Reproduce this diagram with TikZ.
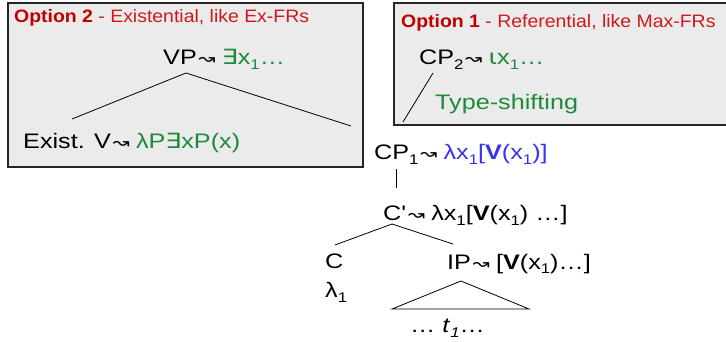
\documentclass[tikz,border=0pt]{standalone}
\usepackage{fontspec}
\setmainfont[FakeStretch=1.2]{Liberation Sans}
\newfontfamily\headfont[FakeStretch=1.08]{Liberation Sans}
\newfontfamily\symfont[FakeStretch=1.2]{DejaVu Sans}
\definecolor{boxgray}{HTML}{EBEBEB}
\definecolor{optred}{HTML}{C00000}
\definecolor{optlight}{HTML}{D0181C}
\definecolor{semgreen}{HTML}{1E8A3A}
\definecolor{semblue}{HTML}{3535F0}
% small wavy arrow used between a label and its meaning
\newcommand{\mapsarr}{\hspace{0.08em}{\symfont\fontsize{17}{17}\selectfont ↝}\hspace{0.3em}}
\newcommand{\exq}{{\symfont ∃}}
\newcommand{\iotaop}{{\symfont ι}}
\newcommand{\straightq}{{\addfontfeatures{Ligatures=TeXOff}'}}
\newcommand{\lo}[1]{\raisebox{-5pt}{\fontsize{14}{14}\selectfont #1}}
\begin{document}
\begin{tikzpicture}[x=1pt,y=-1pt,
  panel/.style={draw=black!85,line width=1.1pt,fill=boxgray},
  lbl/.style={anchor=base west,inner sep=0pt,font=\fontsize{21}{24}\selectfont},
  head/.style={anchor=base west,inner sep=0pt,font=\headfont\fontsize{18}{20}\selectfont},
  branch/.style={line width=0.8pt,black}]
\useasboundingbox (0,0) rectangle (726,342);
\fill[white] (0,0) rectangle (726,342);

% Option 2 panel
\draw[panel] (8,3) rectangle (363,167);
\node[head] (opt2) at (14,23) {\textcolor{optred}{\textbf{Option 2}} \textcolor{optlight}{- Existential, like Ex-FRs}};
\node[lbl] (vp) at (163,65) {VP\mapsarr\textcolor{semgreen}{\exq x\lo{1}…}};
\node[lbl] (ev) at (23,149) {Exist. V\mapsarr\textcolor{semgreen}{λP\exq xP(x)}};
\coordinate (vptop) at (186,73);
\coordinate (vpl) at (72,119);
\coordinate (vpr) at (351,126);
\draw[branch] (vpl) -- (vptop) -- (vpr);

% Option 1 panel
\draw[panel] (394,3) rectangle (727,125);
\node[head] (opt1) at (401,28) {\textcolor{optred}{\textbf{Option 1}} \textcolor{optlight}{- Referential, like Max-FRs}};
\node[lbl] (cp2) at (419,65) {CP\lo{2}\mapsarr\textcolor{semgreen}{\iotaop x\lo{1}…}};
\node[lbl,text=semgreen] (ts) at (435,110) {Type-shifting};
\coordinate (tsa) at (433,73);
\coordinate (tsb) at (403,122);
\draw[branch] (tsa) -- (tsb);

% main tree
\node[lbl] (cp1) at (374,160) {CP\lo{1}\mapsarr\textcolor{semblue}{λx\lo{1}[\textbf{V}(x\lo{1})]}};
\node[lbl] (cbar) at (383,221) {C\straightq\mapsarr λx\lo{1}[\textbf{V}(x\lo{1}) …]};
\node[lbl] (c) at (325,268) {C};
\node[lbl] (lam) at (325,297) {λ\lo{1}};
\node[lbl] (ip) at (447,269) {IP\mapsarr[\textbf{V}(x\lo{1})…]};
\node[lbl] (trace) at (410,332) {… \textit{t}\lo{\itshape 1}…};

\coordinate (cpb) at (396,169);
\coordinate (cbt) at (396,188);
\draw[branch] (cpb) -- (cbt);
\coordinate (cbar top) at (392,224);
\coordinate (cl) at (335,245);
\coordinate (cr) at (453,244);
\draw[branch] (cl) -- (cbar top) -- (cr);
\coordinate (tri top) at (461,281);
\coordinate (tri l) at (392,309);
\coordinate (tri r) at (529,309);
\draw[branch] (tri l) -- (tri top) -- (tri r) -- cycle;
\end{tikzpicture}
\end{document}
